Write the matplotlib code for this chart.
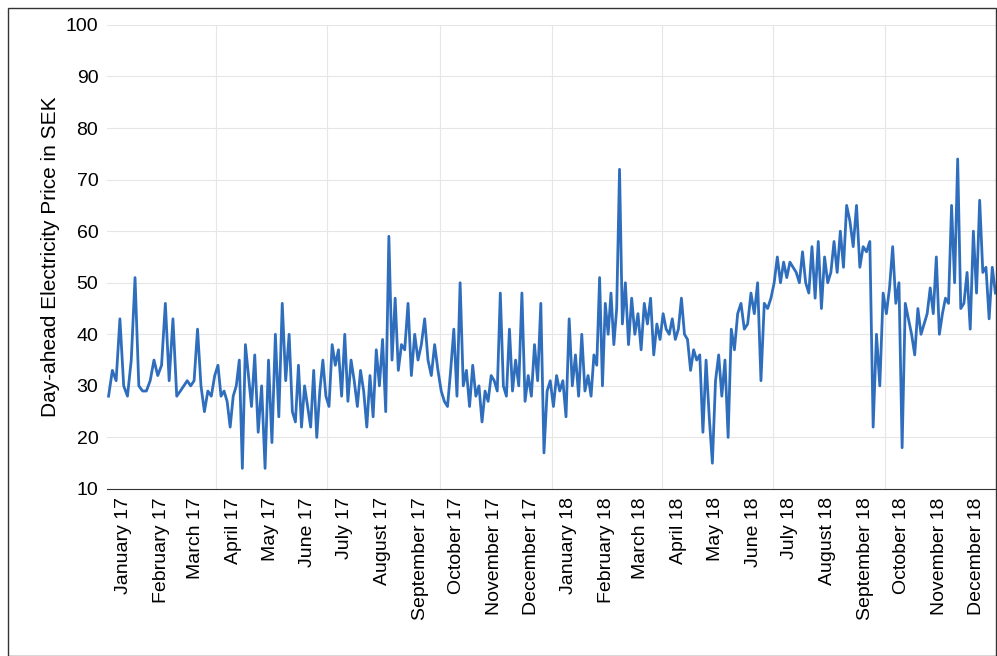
import matplotlib.pyplot as plt
import matplotlib.dates as mdates
import numpy as np
import pandas as pd

plt.rcParams['font.family'] = ['Liberation Sans', 'DejaVu Sans']

# price readings per month (spread evenly across each month)
jan17 = [28, 33, 31, 43, 30, 28, 35, 51, 30, 29]
feb17 = [29, 31, 35, 32, 34, 46, 31, 43, 28]
mar17 = [29, 30, 31, 30, 31, 41, 30, 25, 29, 28, 32]
apr17 = [34, 28, 29, 27, 22, 28, 30, 35, 14, 38, 32, 26]
may17 = [36, 21, 30, 14, 35, 19, 40, 24, 46, 31, 40]
jun17 = [25, 23, 34, 22, 30, 26, 22, 33, 20, 29, 35, 28]
jul17 = [26, 38, 34, 37, 28, 40, 27, 35, 31, 26, 33, 29]
aug17 = [22, 32, 24, 37, 30, 39, 25, 59, 35, 47, 33, 38]
sep17 = [37, 46, 32, 40, 35, 38, 43, 35, 32, 38, 33]
oct17 = [29, 27, 26, 33, 41, 28, 50, 30, 33, 26, 34, 28]
nov17 = [30, 23, 29, 27, 32, 31, 29, 48, 30, 28, 41, 29]
dec17 = [35, 30, 48, 27, 32, 28, 38, 31, 46, 17, 29, 31]
jan18 = [26, 32, 29, 31, 24, 43, 30, 36, 28, 40, 29, 32]
feb18 = [28, 36, 34, 51, 30, 46, 40, 48, 38, 45, 72, 42]
mar18 = [50, 38, 47, 40, 44, 37, 46, 42, 47, 36, 42, 39]
apr18 = [44, 41, 40, 43, 39, 41, 47, 40, 39, 33, 37, 35]
may18 = [36, 21, 35, 24, 15, 31, 36, 28, 35, 20, 41, 37]
jun18 = [44, 46, 41, 42, 48, 44, 50, 31, 46, 45, 47]
jul18 = [50, 55, 50, 54, 51, 54, 53, 52, 50, 56, 50, 48]
aug18 = [57, 47, 58, 45, 55, 50, 52, 58, 52, 60, 53, 65]
sep18 = [62, 57, 65, 53, 57, 56, 58, 22, 40, 30, 48]
oct18 = [44, 49, 57, 46, 50, 18, 46, 43, 40, 36, 45, 40]
nov18 = [42, 44, 49, 44, 55, 40, 44, 47, 46, 65, 50, 74]
dec18 = [45, 46, 52, 41, 60, 48, 66, 52, 53, 43, 53, 48]

months = [jan17, feb17, mar17, apr17, may17, jun17, jul17, aug17, sep17, oct17, nov17, dec17,
          jan18, feb18, mar18, apr18, may18, jun18, jul18, aug18, sep18, oct18, nov18, dec18]

dates, prices = [], []
starts = pd.date_range('2017-01-01', periods=25, freq='MS')
for i, vals in enumerate(months):
    span = starts[i + 1] - starts[i]
    for k, v in enumerate(vals):
        dates.append(starts[i] + span * (k + 0.5) / len(vals))
        prices.append(v)

fig = plt.figure(figsize=(9.97, 6.56), dpi=100)
ax = fig.add_axes([0.107, 0.2546, 0.893, 0.7074])
fig.patches.append(plt.Rectangle((0.008, 0.0), 0.991, 0.988, transform=fig.transFigure,
                                 fill=False, edgecolor='#333333', linewidth=1))

ax.plot(dates, prices, color='#2f6ebd', linewidth=2)
ax.set_xlim(pd.Timestamp('2017-01-01'), pd.Timestamp('2019-01-01'))
ax.set_ylim(10, 100)
ax.set_yticks(np.arange(10, 101, 10))

mids = [s + pd.Timedelta(days=14) for s in starts[:24]]
ax.set_xticks(mids)
ax.set_xticklabels([s.strftime('%B %y') for s in starts[:24]], rotation=90)
ax.set_xticks(pd.date_range('2017-04-01', periods=7, freq='3MS'), minor=True)
ax.grid(True, which='minor', axis='x', color='#e6e6e6')
ax.grid(True, which='major', axis='y', color='#e6e6e6')
ax.tick_params(axis='both', which='both', length=0, labelsize=14, pad=6)
for s in ['top', 'right', 'left']:
    ax.spines[s].set_visible(False)
ax.spines['bottom'].set_color('#333333')
ax.set_ylabel('Day-ahead Electricity Price in SEK', fontsize=15)

plt.savefig('out.png')
